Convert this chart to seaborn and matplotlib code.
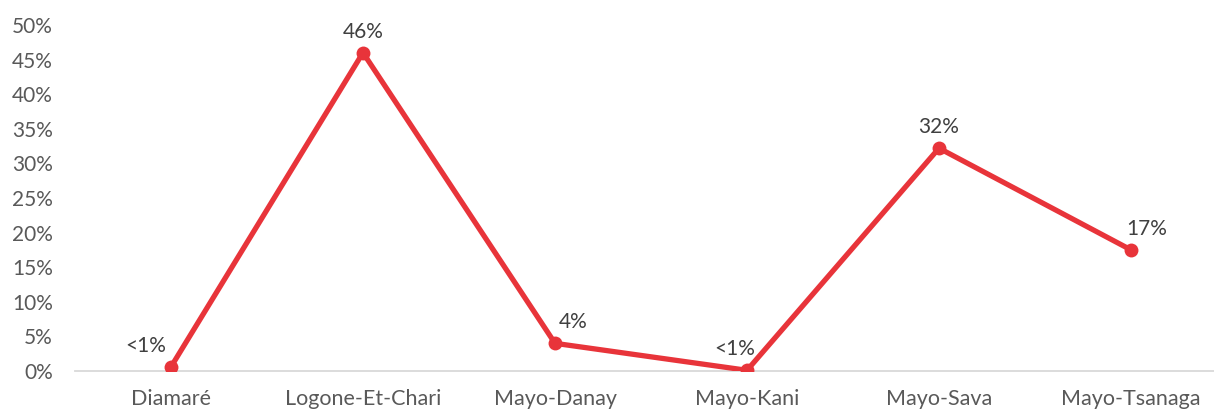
import matplotlib
matplotlib.use("Agg")
import matplotlib.pyplot as plt
import seaborn as sns
import pandas as pd
from matplotlib.ticker import FuncFormatter, MultipleLocator

# Share of cases per department (percent)
departments = ["Diamaré", "Logone-Et-Chari", "Mayo-Danay", "Mayo-Kani", "Mayo-Sava", "Mayo-Tsanaga"]
shares = [0.6, 46.0, 4.0, 0.1, 32.2, 17.5]
value_labels = ["<1%", "46%", "4%", "<1%", "32%", "17%"]
# label offsets (points) relative to each marker
label_dx = [-18, 0, 13, -9, 0, 11]

sns.set_theme(style="white")
plt.rcParams["font.family"] = ["Lato", "DejaVu Sans"]

df = pd.DataFrame({"department": departments, "share": shares})

fig = plt.figure(figsize=(12.14, 4.12), dpi=100)
ax = fig.add_axes([75 / 1214, 1 - 371 / 412, 1152 / 1214, (371 - 25) / 412])

red = "#e8343a"
sns.lineplot(data=df, x="department", y="share", sort=False, ax=ax,
             color=red, linewidth=3.8, marker="o", markersize=10,
             markeredgewidth=0, markeredgecolor=red)

for i, (v, lab, dx) in enumerate(zip(shares, value_labels, label_dx)):
    ax.annotate(lab, (i, v), xytext=(dx, 8), textcoords="offset points",
                ha="center", va="bottom", fontsize=15, color="#404040")

ax.set_xlim(-0.5, len(departments) - 0.5)
ax.set_ylim(0, 50)
ax.yaxis.set_major_locator(MultipleLocator(5))
ax.yaxis.set_major_formatter(FuncFormatter(lambda v, _: f"{v:.0f}%"))
ax.set_xlabel("")
ax.set_ylabel("")

for s in ["top", "right", "left"]:
    ax.spines[s].set_visible(False)
ax.spines["bottom"].set_color("#d9d9d9")
ax.spines["bottom"].set_linewidth(1.3)
ax.spines["bottom"].set_zorder(0)

ax.tick_params(axis="y", length=0, pad=16, labelsize=15, labelcolor="#595959")
ax.tick_params(axis="x", length=0, pad=13, labelsize=15.5, labelcolor="#595959")
ax.grid(False)

fig.savefig("out.png", dpi=100)
